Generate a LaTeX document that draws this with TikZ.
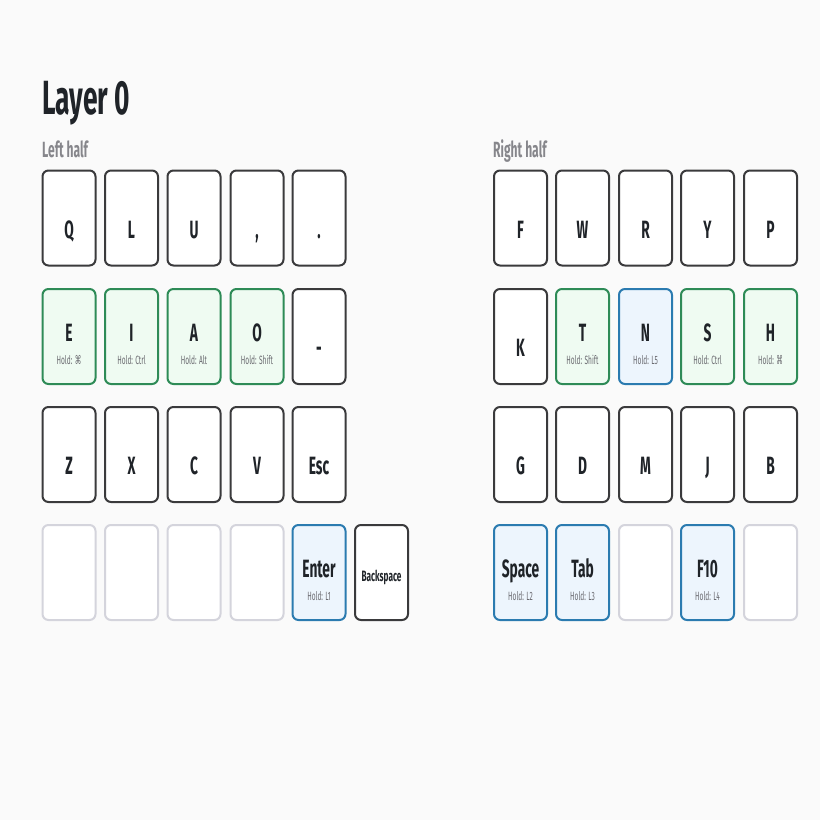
\documentclass[tikz,border=0pt]{standalone}
\usepackage{fontspec}
\setmainfont{Fira Sans}[FakeStretch=0.55]
\newfontfamily\symfont{DejaVu Sans}[FakeStretch=0.55]
\usetikzlibrary{calc}
\definecolor{bgc}{HTML}{FAFAFA}
\definecolor{darkb}{HTML}{3A3A3C}
\definecolor{greenb}{HTML}{2E8B57}
\definecolor{greenf}{HTML}{EFFBF2}
\definecolor{blueb}{HTML}{2B7BB0}
\definecolor{bluef}{HTML}{EDF5FD}
\definecolor{emptyb}{HTML}{D4D4DC}
\definecolor{txt}{HTML}{1F2328}
\definecolor{holdc}{HTML}{6A6A70}
\definecolor{subc}{HTML}{86868B}
\tikzset{
  keybox/.style={draw=darkb, fill=white, line width=2pt, rounded corners=6pt,
    minimum width=53pt, minimum height=95pt, inner sep=0pt},
  gkey/.style={draw=greenb, fill=greenf},
  bkey/.style={draw=blueb, fill=bluef},
  ekey/.style={draw=emptyb, fill=white},
  mainlab/.style={anchor=base, inner sep=0pt, text=txt, font=\fontsize{25}{25}\selectfont\bfseries},
  smalllab/.style={anchor=base, inner sep=0pt, text=txt, font=\fontsize{15}{15}\selectfont\bfseries},
  holdlab/.style={anchor=base, inner sep=0pt, text=holdc, font=\fontsize{12}{12}\selectfont},
  titlelab/.style={anchor=base west, inner sep=0pt, text=txt, font=\fontsize{48}{48}\selectfont\bfseries},
  sublab/.style={anchor=base west, inner sep=0pt, text=subc, font=\fontsize{22}{22}\selectfont\bfseries},
}
% plain key: name, x, y, label
\newcommand\pk[4]{%
  \node[keybox] (#1) at (#2,#3) {};
  \node[mainlab] (#1m) at ($(#1.center)+(0,20)$) {#4};}
% hold key: name, x, y, style, label, hold
\newcommand\hk[6]{%
  \node[keybox,#4] (#1) at (#2,#3) {};
  \node[mainlab] (#1m) at ($(#1.center)+(0,5)$) {#5};
  \node[holdlab] (#1h) at ($(#1.center)+(0,27.5)$) {#6};}
% empty key
\newcommand\ek[3]{\node[keybox,ekey] (#1) at (#2,#3) {};}
\begin{document}
\begin{tikzpicture}[x=1pt,y=-1pt]
\useasboundingbox[fill=bgc] (0,0) rectangle (820,820);
\node[titlelab] (title) at (42,114) {Layer 0};
\node[sublab] (lefth) at (42,157) {Left half};
\node[sublab] (righth) at (493,157) {Right half};
% left half row 1
\pk{q}{69}{218}{Q}
\pk{l}{131.5}{218}{L}
\pk{u}{194}{218}{U}
\pk{comma}{257}{218}{,}
\pk{dot}{319}{218}{.}
% left row 2
\hk{e}{69}{336.5}{gkey}{E}{Hold: {\symfont ⌘}}
\hk{i}{131.5}{336.5}{gkey}{I}{Hold: Ctrl}
\hk{a}{194}{336.5}{gkey}{A}{Hold: Alt}
\hk{o}{257}{336.5}{gkey}{O}{Hold: Shift}
\pk{dash}{319}{336.5}{-}
% left row 3
\pk{z}{69}{454.5}{Z}
\pk{x}{131.5}{454.5}{X}
\pk{c}{194}{454.5}{C}
\pk{v}{257}{454.5}{V}
\pk{esc}{319}{454.5}{Esc}
% left row 4
\ek{e1}{69}{572.5}
\ek{e2}{131.5}{572.5}
\ek{e3}{194}{572.5}
\ek{e4}{257}{572.5}
\hk{enter}{319}{572.5}{bkey}{Enter}{Hold: L1}
\node[keybox] (bksp) at (381.5,572.5) {};
\node[smalllab] (bkspm) at ($(bksp.center)+(0,8.5)$) {Backspace};
% right row 1
\pk{f}{520.5}{218}{F}
\pk{w}{582.5}{218}{W}
\pk{r}{645.5}{218}{R}
\pk{y}{707.5}{218}{Y}
\pk{p}{770.5}{218}{P}
% right row 2
\pk{k}{520.5}{336.5}{K}
\hk{t}{582.5}{336.5}{gkey}{T}{Hold: Shift}
\hk{n}{645.5}{336.5}{bkey}{N}{Hold: L5}
\hk{s}{707.5}{336.5}{gkey}{S}{Hold: Ctrl}
\hk{h}{770.5}{336.5}{gkey}{H}{Hold: {\symfont ⌘}}
% right row 3
\pk{g}{520.5}{454.5}{G}
\pk{d}{582.5}{454.5}{D}
\pk{m}{645.5}{454.5}{M}
\pk{j}{707.5}{454.5}{J}
\pk{b}{770.5}{454.5}{B}
% right row 4
\hk{space}{520.5}{572.5}{bkey}{Space}{Hold: L2}
\hk{tab}{582.5}{572.5}{bkey}{Tab}{Hold: L3}
\ek{e5}{645.5}{572.5}
\hk{f10}{707.5}{572.5}{bkey}{F10}{Hold: L4}
\ek{e6}{770.5}{572.5}
\end{tikzpicture}
\end{document}
